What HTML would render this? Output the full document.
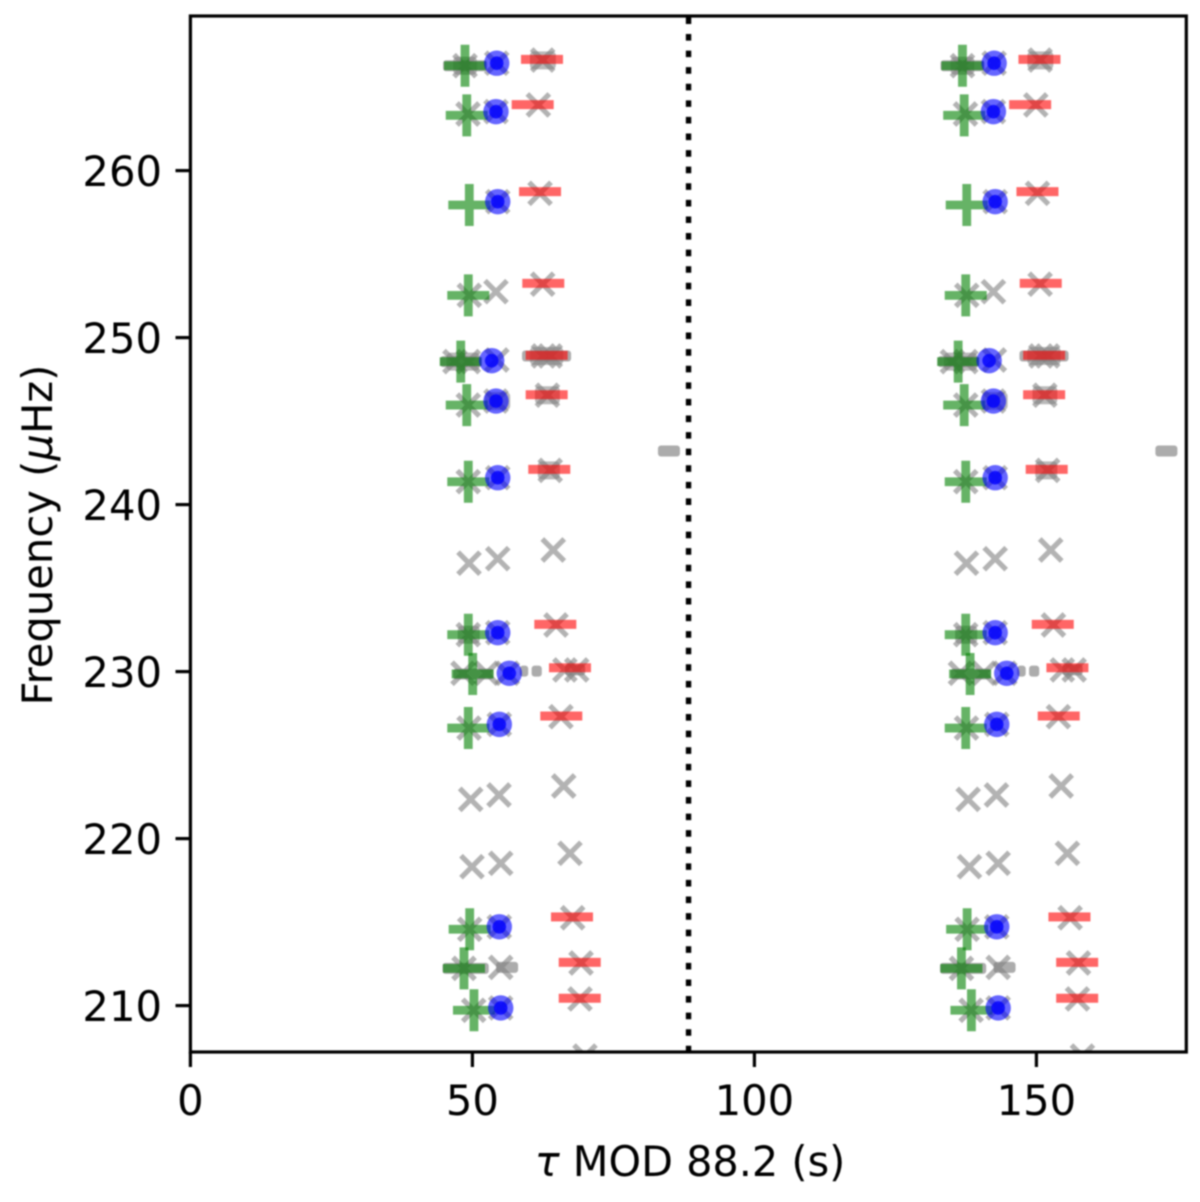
<!DOCTYPE html>
<html>
<head>
<meta charset="utf-8">
<title>Frequency vs period modulo</title>
<style>
html,body{margin:0;padding:0;background:#fff;}
#chart{display:block;width:1200px;height:1202px;filter:blur(0.7px);}
text{font-family:"DejaVu Sans","Liberation Sans",sans-serif;font-size:41.7px;fill:#000;}
</style>
</head>
<body>
<svg id="chart" xmlns="http://www.w3.org/2000/svg" width="1200" height="1202" viewBox="0 0 1200 1202">
  <defs><clipPath id="plot-clip"><rect x="190.4" y="16" width="995.9" height="1036"/></clipPath></defs>
  <g id="marks" clip-path="url(#plot-clip)"></g>
  <g id="axes"></g>
  <text x="690" y="1176" text-anchor="middle" style="font-size:41.4px"><tspan font-style="italic">τ</tspan> MOD 88.2 (s)</text>
  <text transform="translate(52 535) rotate(-90)" text-anchor="middle">Frequency (<tspan font-style="italic">μ</tspan>Hz)</text>
</svg>
<script>
const period = [88.2];
const xTicks = [0, 50, 100, 150];
const yTicks = [210, 220, 230, 240, 250, 260];

const greenTau = [48.69,49.0,49.45,49.27,47.93,49.0,49.27,49.27,50.05,49.27,49.52,48.51,50.28];
const greenFreq = [266.28,263.31,257.94,252.53,248.56,245.96,241.37,232.21,229.86,226.62,214.57,212.23,209.72];

const blueTau = [54.31,54.18,54.49,53.42,54.18,54.49,54.49,56.54,54.77,54.77,55.02];
const blueFreq = [266.43,263.53,258.14,248.62,246.2,241.61,232.33,229.9,226.84,214.72,209.86];

const redTau = [62.34,60.69,61.99,62.57,63.17,63.17,63.63,64.7,67.3,65.76,67.66,69.03,69.03];
const redFreq = [266.66,263.95,258.74,253.25,248.94,246.58,242.11,232.83,230.23,227.34,215.31,212.59,210.44];

const crossTau = [48.69,54.31,62.46,49.22,54.18,61.69,54.49,61.99,49.45,54.18,62.46,46.9,49.27,54.34,62.6,63.8,49.27,54.18,63.3,49.27,54.49,63.8,49.4,54.49,64.34,49.27,54.49,64.82,48.33,52.5,56.2,66.4,68.5,49.4,54.77,65.7,49.7,54.72,66.19,49.93,55.02,67.3,49.52,54.77,67.78,48.51,55.02,69.26,50.23,55.02,69.08,69.96];
const crossFreq = [266.28,266.43,266.62,263.39,263.53,263.93,258.14,258.64,252.53,252.75,253.2,248.56,248.56,248.66,248.9,248.9,245.96,246.2,246.55,241.37,241.61,242.05,236.49,236.76,237.28,232.21,232.33,232.79,229.9,229.9,229.9,230.1,230.1,226.62,226.84,227.3,222.35,222.61,223.15,218.32,218.52,219.12,214.57,214.72,215.26,212.23,212.29,212.55,209.72,209.86,210.4,206.98];

const dashStart = [44.8,44.3,58.8,46.6,58.4,60.5,66.4,82.9,44.7,54.2];
const dashEnd = [52.6,51.6,67.5,53.7,59.9,62.3,70.0,86.8,52.9,58.1];
const dashFreq = [266.28,248.56,248.9,229.86,230.03,230.03,230.1,243.21,212.23,212.29];

const clusterStart = [46.6,60.2,45.4,60.2,52.2,61.1,61.6,47.4];
const clusterEnd = [50.8,64.8,51.3,66.1,56.7,65.5,65.5,51.3];
const clusterFreq = [266.28,266.6,248.56,248.9,246.2,246.55,242.05,232.21];

const NS = 'http://www.w3.org/2000/svg';
const marks = document.getElementById('marks');
const axes = document.getElementById('axes');
const sx = v => 190.4 + v * 5.64;
const sy = v => 1005.6 - (v - 210) * 16.7;
function mk(tag, parent, props) {
  const el = document.createElementNS(NS, tag);
  for (const k in props) el.setAttribute(k, props[k]);
  parent.appendChild(el);
  return el;
}
const offsets = [0, period[0]];

// vertical dotted line at the period
const periodLine = mk('line', marks, {x1: sx(period[0]) + 0.7, x2: sx(period[0]) + 0.7, y1: 17.4, y2: 1052, stroke: '#000', 'stroke-width': 5.4, 'stroke-dasharray': '6.6 9.987'});



offsets.forEach(off => {
  crossTau.forEach((t, i) => {
    const cx = sx(t + off), cy = sy(crossFreq[i]), a = 11;
    const g = mk('path', marks, {d: `M${cx-a} ${cy-a}L${cx+a} ${cy+a}M${cx-a} ${cy+a}L${cx+a} ${cy-a}`, stroke: '#808080', 'stroke-width': 5.2, 'stroke-opacity': 0.6, fill: 'none'});
    
    
  });
  clusterStart.forEach((t, i) => {
    const x0 = sx(t + off), x1 = sx(clusterEnd[i] + off), cy = sy(clusterFreq[i]);
    const r = mk('rect', marks, {x: x0, y: cy - 9, width: x1 - x0, height: 18, rx: 4, fill: '#808080', 'fill-opacity': 0.55});
    
    
  });
  dashStart.forEach((t, i) => {
    const x0 = sx(t + off), x1 = sx(dashEnd[i] + off), cy = sy(dashFreq[i]);
    const r = mk('rect', marks, {x: x0, y: cy - 5.5, width: x1 - x0, height: 11, rx: 3, fill: '#808080', 'fill-opacity': 0.65});
    
    
  });
  greenTau.forEach((t, i) => {
    const cx = sx(t + off), cy = sy(greenFreq[i]), a = 21, w = 4.4;
    const g = mk('path', marks, {d: `M${cx-a} ${cy-w}H${cx-w}V${cy-a}H${cx+w}V${cy-w}H${cx+a}V${cy+w}H${cx+w}V${cy+a}H${cx-w}V${cy+w}H${cx-a}Z`, fill: '#008000', 'fill-opacity': 0.6});
    
    
  });
  blueTau.forEach((t, i) => {
    const cx = sx(t + off), cy = sy(blueFreq[i]);
    const outer = mk('circle', marks, {cx: cx, cy: cy, r: 12.7, fill: '#0000ff', 'fill-opacity': 0.6});
    
    
    const inner = mk('circle', marks, {cx: cx, cy: cy, r: 6.8, fill: '#0000ff', 'fill-opacity': 0.8});
    
    
  });
  redTau.forEach((t, i) => {
    const cx = sx(t + off), cy = sy(redFreq[i]);
    const r = mk('rect', marks, {x: cx - 21, y: cy - 4.5, width: 42, height: 9, fill: '#ff0000', 'fill-opacity': 0.6});
    
    
  });
});

// frame
const frame = mk('rect', axes, {x: 190.4, y: 16, width: 995.9, height: 1036, fill: 'none', stroke: '#000', 'stroke-width': 3.2});



xTicks.forEach(v => {
  const x = sx(v);
  const t = mk('line', axes, {x1: x, x2: x, y1: 1052, y2: 1067, stroke: '#000', 'stroke-width': 3.2});
  
  
  const l = mk('text', axes, {x: x, y: 1115, 'text-anchor': 'middle'});
  
  
  l.textContent = v;
});
yTicks.forEach(v => {
  const y = sy(v);
  const t = mk('line', axes, {x1: 175.5, x2: 190.4, y1: y, y2: y, stroke: '#000', 'stroke-width': 3.2});
  
  
  const l = mk('text', axes, {x: 162, y: y + 15.5, 'text-anchor': 'end'});
  
  
  l.textContent = v;
});
</script>
</body>
</html>
